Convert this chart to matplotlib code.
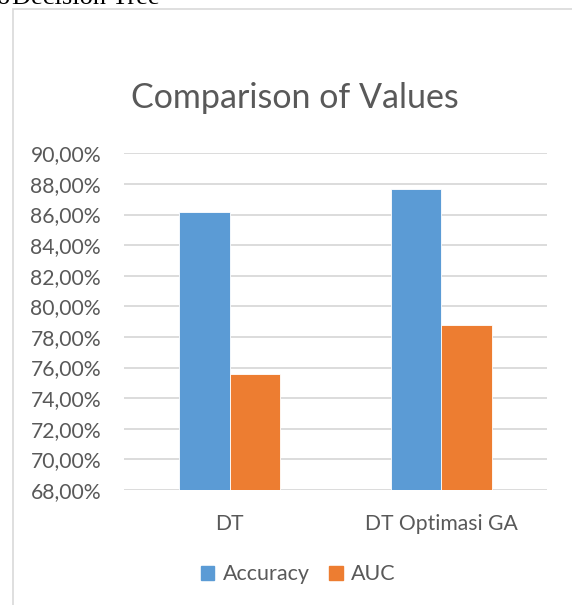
import matplotlib.pyplot as plt
import numpy as np
from matplotlib.patches import Rectangle, Patch
from matplotlib.ticker import FuncFormatter, MultipleLocator

categories = ["DT", "DT Optimasi GA"]
accuracy = [86.15, 87.65]
auc = [75.55, 78.78]
series_names = ["Accuracy", "AUC"]

BLUE = "#5B9BD5"
ORANGE = "#ED7D31"
GRID = "#D9D9D9"
TEXT = "#595959"
FONT = "Lato"

fig = plt.figure(figsize=(5.72, 6.05), dpi=100)
ax = fig.add_axes([124 / 572, 1 - 490 / 605, 423 / 572, (490 - 153.3) / 605])

x = np.arange(len(categories))
width = 0.239
ax.bar(x - width / 2, accuracy, width, color=BLUE, edgecolor="white", linewidth=0.6, zorder=3)
ax.bar(x + width / 2, auc, width, color=ORANGE, edgecolor="white", linewidth=0.6, zorder=3)

ax.set_xlim(-0.5, 1.5)
ax.set_ylim(68, 90)
ax.yaxis.set_major_locator(MultipleLocator(2))
ax.yaxis.set_major_formatter(FuncFormatter(lambda v, _: f"{v:.2f}%".replace(".", ",")))
ax.grid(axis="y", color=GRID, linewidth=1.3, zorder=0)
for side in ax.spines.values():
    side.set_visible(False)
ax.tick_params(axis="both", length=0, labelsize=15.2, labelcolor=TEXT)
ax.tick_params(axis="y", pad=16.5)
ax.tick_params(axis="x", pad=17)
ax.set_xticks(x)
ax.set_xticklabels(categories)
for label in ax.get_xticklabels() + ax.get_yticklabels():
    label.set_fontfamily(FONT)

fig.text(295 / 572, 1 - 98 / 605, "Comparison of Values", ha="center", va="center",
         fontsize=24.5, color=TEXT, family=FONT)

handles = [Patch(color=BLUE, label=series_names[0]), Patch(color=ORANGE, label=series_names[1])]
fig.legend(handles=handles, loc="center", bbox_to_anchor=(298.5 / 572, 1 - 574.5 / 605), ncol=2,
           frameon=False, handlelength=0.62, handleheight=0.62, handletextpad=0.4,
           columnspacing=0.9, prop={"family": FONT, "size": 15.5}, labelcolor=TEXT)

# chart frame and cut-off caption above it
fig.patches.append(Rectangle((12.5 / 572, -0.1), 1.2, 1.1 - 9.5 / 605, transform=fig.transFigure,
                             fill=False, edgecolor=GRID, linewidth=1.2))
fig.text(12 / 572, 1 - 4 / 605, "Decision Tree", ha="left", va="baseline",
         fontsize=19, family="Liberation Serif", color="black")
fig.text(-3 / 572, 1 - 4 / 605, "o", ha="left", va="baseline",
         fontsize=19, family="Liberation Serif", color="black")

fig.savefig("out.png", dpi=100)
